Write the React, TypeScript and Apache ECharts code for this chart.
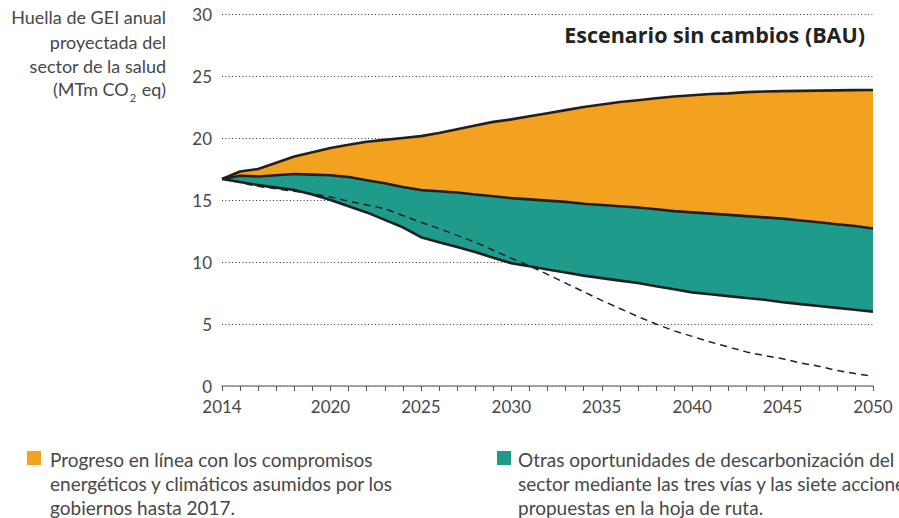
import React, { useEffect, useRef } from 'react';
import * as echarts from 'echarts';

const years = [
  '2014', '2015', '2016', '2017', '2018', '2019', '2020', '2021', '2022', '2023',
  '2024', '2025', '2026', '2027', '2028', '2029', '2030', '2031', '2032', '2033',
  '2034', '2035', '2036', '2037', '2038', '2039', '2040', '2041', '2042', '2043',
  '2044', '2045', '2046', '2047', '2048', '2049', '2050',
];
const xLabelYears = ['2014', '2020', '2025', '2030', '2035', '2040', '2045', '2050'];

// Business as usual (top line)
const bauTop = [
  16.7, 17.3, 17.5, 18.0, 18.5, 18.85, 19.2, 19.45, 19.7, 19.85,
  20.0, 20.15, 20.4, 20.7, 21.0, 21.3, 21.5, 21.75, 22.0, 22.25,
  22.5, 22.7, 22.9, 23.05, 23.2, 23.35, 23.45, 23.55, 23.6, 23.7,
  23.75, 23.78, 23.8, 23.82, 23.84, 23.86, 23.87,
];
// After government commitments (middle line)
const commitments = [
  16.7, 16.95, 16.9, 17.0, 17.1, 17.05, 17.0, 16.85, 16.6, 16.35,
  16.05, 15.8, 15.7, 15.6, 15.45, 15.3, 15.15, 15.05, 14.95, 14.85,
  14.7, 14.6, 14.5, 14.4, 14.25, 14.1, 14.0, 13.9, 13.8, 13.7,
  13.6, 13.5, 13.35, 13.2, 13.05, 12.9, 12.7,
];
// After roadmap actions (bottom line)
const roadmap = [
  16.7, 16.45, 16.2, 16.0, 15.8, 15.45, 15.0, 14.5, 14.0, 13.4,
  12.8, 12.0, 11.6, 11.2, 10.8, 10.35, 9.9, 9.65, 9.4, 9.15,
  8.9, 8.7, 8.5, 8.3, 8.05, 7.8, 7.55, 7.4, 7.25, 7.1,
  6.95, 6.75, 6.6, 6.45, 6.3, 6.15, 6.0,
];
// Dashed pathway
const pathway = [
  16.7, 16.4, 16.1, 15.9, 15.7, 15.5, 15.25, 14.9, 14.6, 14.3,
  13.75, 13.2, 12.7, 12.15, 11.6, 10.95, 10.3, 9.7, 9.0, 8.3,
  7.6, 6.9, 6.25, 5.6, 5.0, 4.45, 4.0, 3.55, 3.15, 2.75,
  2.45, 2.2, 1.85, 1.6, 1.25, 1.0, 0.8,
];

const yAxisTitle = ['Huella de GEI anual', 'proyectada del', 'sector de la salud'];
const chartTitle = 'Escenario sin cambios (BAU)';
const legendOrange = 'Progreso en línea con los compromisos\nenergéticos y climáticos asumidos por los\ngobiernos hasta 2017.';
const legendTeal = 'Otras oportunidades de descarbonización del\nsector mediante las tres vías y las siete acciones\npropuestas en la hoja de ruta.';

const ORANGE = '#F3A21F';
const TEAL = '#1F9B8B';
const LINE = '#231F20';
const TEXT = '#474747';
const FONT = 'Lato, "Open Sans", sans-serif';
const TITLE_FONT = '"Open Sans", Lato, sans-serif';

const r2 = (v: number) => Math.round(v * 100) / 100;

export default function App() {
  const ref = useRef<HTMLDivElement>(null);
  useEffect(() => {
    document.body.style.margin = '0';
    if (!ref.current) return;
    const chart = echarts.init(ref.current, undefined, { renderer: 'svg' });
    const lineSeries = (name: string, data: number[], extra: any = {}) => ({
      type: 'line',
      name,
      data,
      symbol: 'none',
      silent: true,
      lineStyle: { color: LINE, width: 2.6, ...(extra.lineStyle || {}) },
      z: extra.z ?? 5,
    });
    chart.setOption({
      animation: false,
      grid: { left: 222, right: 26, top: 14, bottom: 132 },
      xAxis: {
        type: 'category',
        data: years,
        boundaryGap: false,
        axisLine: { lineStyle: { color: '#8c8c8c', width: 1.5 } },
        axisTick: { show: true, interval: 0, length: 5, lineStyle: { color: '#555', width: 1 } },
        axisLabel: {
          interval: 0,
          formatter: (v: string) => (xLabelYears.includes(v) ? v : ''),
          fontSize: 17,
          color: TEXT,
          fontFamily: FONT,
          margin: 12,
        },
        splitLine: { show: false },
      },
      yAxis: {
        type: 'value',
        min: 0,
        max: 30,
        interval: 5,
        axisLine: { show: false },
        axisTick: { show: false },
        axisLabel: { fontSize: 17, color: TEXT, fontFamily: FONT, margin: 10 },
        splitLine: { lineStyle: { color: '#333', width: 1, type: [1, 2.4] } },
      },
      series: [
        {
          type: 'line',
          stack: 'bands',
          data: roadmap,
          symbol: 'none',
          silent: true,
          lineStyle: { width: 0, opacity: 0 },
          z: 2,
        },
        {
          type: 'line',
          stack: 'bands',
          data: commitments.map((v, i) => r2(v - roadmap[i])),
          symbol: 'none',
          silent: true,
          lineStyle: { width: 0, opacity: 0 },
          areaStyle: { color: TEAL, opacity: 1 },
          z: 2,
        },
        {
          type: 'line',
          stack: 'bands',
          data: bauTop.map((v, i) => r2(v - commitments[i])),
          symbol: 'none',
          silent: true,
          lineStyle: { width: 0, opacity: 0 },
          areaStyle: { color: ORANGE, opacity: 1 },
          z: 2,
        },
        lineSeries('pathway', pathway, { lineStyle: { width: 1.5, type: [7, 5] }, z: 4 }),
        lineSeries('bau', bauTop),
        lineSeries('commitments', commitments),
        lineSeries('roadmap', roadmap),
      ],
      graphic: [
        ...yAxisTitle.map((t, i) => ({
          type: 'text',
          x: 166,
          y: 17 + i * 24.5,
          style: { text: t, fill: TEXT, fontSize: 18, fontFamily: FONT, align: 'right', verticalAlign: 'middle' },
        })),
        {
          type: 'text',
          x: 166,
          y: 90.5,
          style: {
            text: '{n|(MTm CO}{s|2}{n| eq)}',
            align: 'right',
            verticalAlign: 'middle',
            rich: {
              n: { fontSize: 18, fill: TEXT, fontFamily: FONT, lineHeight: 22, verticalAlign: 'top' },
              s: { fontSize: 11, fill: TEXT, fontFamily: FONT, lineHeight: 22, padding: [12, 1, 0, 1], verticalAlign: 'top' },
            },
          },
        },
        {
          type: 'text',
          x: 865,
          y: 34,
          style: {
            text: chartTitle,
            fill: '#222',
            fontSize: 21.5,
            fontWeight: 'bold',
            fontFamily: TITLE_FONT,
            align: 'right',
            verticalAlign: 'middle',
          },
        },
        { type: 'rect', shape: { x: 27, y: 451, width: 14, height: 14 }, style: { fill: ORANGE } },
        {
          type: 'text',
          x: 50,
          y: 459.5,
          style: { text: legendOrange, fill: TEXT, fontSize: 19, fontFamily: FONT, lineHeight: 24, verticalAlign: 'top', padding: [-12, 0, 0, 0] },
        },
        { type: 'rect', shape: { x: 497, y: 451, width: 14, height: 14 }, style: { fill: TEAL } },
        {
          type: 'text',
          x: 518,
          y: 459.5,
          style: { text: legendTeal, fill: TEXT, fontSize: 19, fontFamily: FONT, lineHeight: 24, verticalAlign: 'top', padding: [-12, 0, 0, 0] },
        },
      ],
    });
    return () => chart.dispose();
  }, []);
  return <div ref={ref} style={{ width: 899, height: 518 }} />;
}
